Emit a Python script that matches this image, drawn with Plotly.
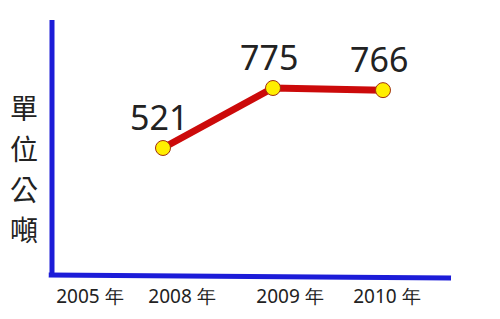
import plotly.graph_objects as go

years = ["2008 年", "2009 年", "2010 年"]
values = [521, 775, 766]
tick_labels = ["2005 年", "2008 年", "2009 年", "2010 年"]
tick_pos = [0.336, 1.173, 2.155, 3.036]
y_title = "單位公噸"

xs = list(range(1, len(values) + 1))

fig = go.Figure()
fig.add_trace(go.Scatter(
    x=xs, y=values, mode="lines+markers",
    line=dict(color="#cc0a0a", width=7),
    marker=dict(size=15, color="#ffee00", line=dict(color="#a03010", width=1)),
    hoverinfo="skip", showlegend=False,
))

for x, v in zip(xs, values):
    fig.add_annotation(x=x, y=v, text=str(v), showarrow=False,
                       xshift=-4, yshift=31,
                       font=dict(family="Noto Sans", size=34, color="#222222"))

# vertical stacked title, one character per annotation
char_y = [0.66, 0.50, 0.34, 0.184]
for ch, cy in zip(y_title, char_y):
    fig.add_annotation(xref="paper", yref="paper", x=-0.068, y=cy,
                       text=ch, showarrow=False,
                       xanchor="center", yanchor="middle",
                       font=dict(family="Noto Sans CJK TC", size=28, color="#222222"))

blue = "#1c1cd8"
fig.add_shape(type="line", xref="paper", yref="paper",
              x0=0, y0=0.0, x1=0, y1=1.0, line=dict(color=blue, width=5))
fig.add_shape(type="line", xref="paper", yref="paper",
              x0=-0.008, y0=0.004, x1=0.978, y1=-0.008, line=dict(color=blue, width=5))

fig.update_layout(
    width=500, height=319,
    margin=dict(l=52, r=40, t=20, b=43, autoexpand=False),
    paper_bgcolor="white", plot_bgcolor="white",
    xaxis=dict(range=[-0.009, 3.7], tickvals=tick_pos, ticktext=tick_labels,
               showgrid=False, zeroline=False, showline=False, automargin=False,
               ticks="outside", ticklen=3, tickcolor="rgba(0,0,0,0)",
               tickfont=dict(family="Noto Sans", size=19, color="#222222")),
    yaxis=dict(range=[-21, 1063], showgrid=False, zeroline=False, automargin=False,
               showline=False, showticklabels=False),
)

fig.write_html("out.html")
